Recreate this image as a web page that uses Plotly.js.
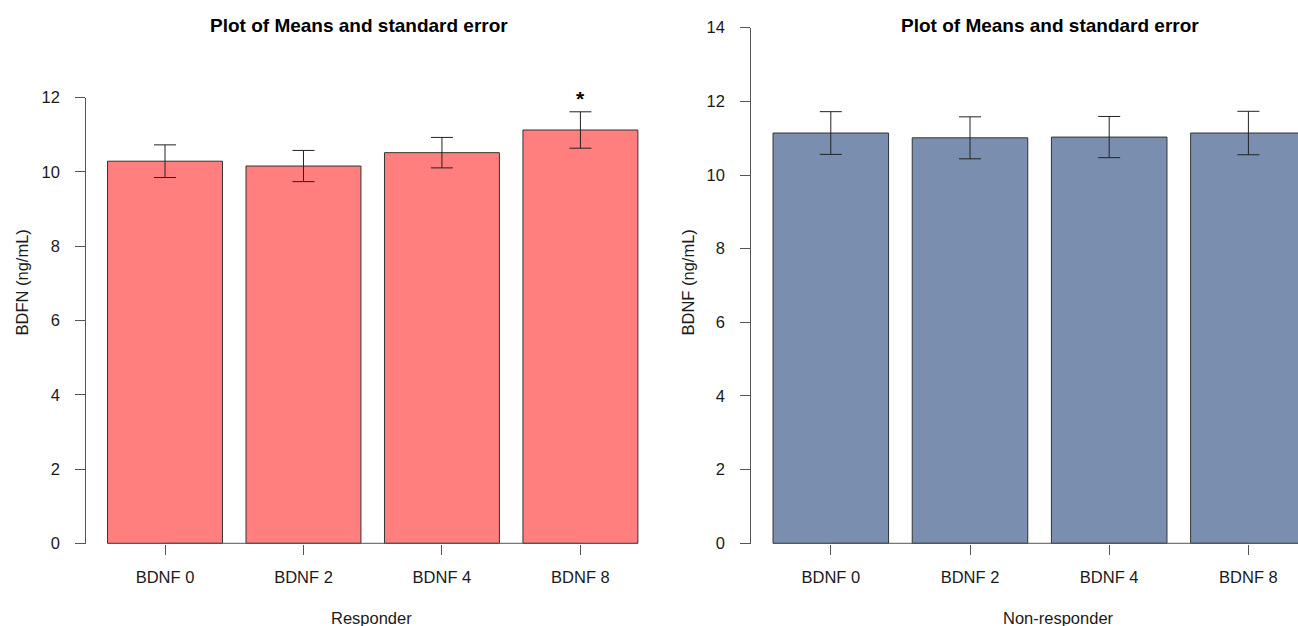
<!DOCTYPE html>
<html>
<head>
<meta charset="utf-8">
<script src="https://cdn.plot.ly/plotly-3.0.1.min.js"></script>
<style>html,body{margin:0;padding:0;background:#fff;}#chart{width:1298px;height:626px;}</style>
</head>
<body>
<div id="chart"></div>
<script>
// ---- data ----
const categories = ['BDNF 0', 'BDNF 2', 'BDNF 4', 'BDNF 8'];
const responderMean = [10.29, 10.16, 10.52, 11.13];
const responderSE = [0.44, 0.42, 0.41, 0.49];
const nonResponderMean = [11.14, 11.01, 11.03, 11.14];
const nonResponderSE = [0.58, 0.57, 0.56, 0.59];
const leftYTicks = [0, 2, 4, 6, 8, 10, 12];
const rightYTicks = [0, 2, 4, 6, 8, 10, 12, 14];
const panelTitle = 'Plot of Means and standard error';
const leftXTitle = 'Responder';
const rightXTitle = 'Non-responder';
const leftYTitle = 'BDFN (ng/mL)';
const rightYTitle = 'BDNF (ng/mL)';
const significanceMark = '*';

// ---- layout geometry (pixels) ----
const W = 1298, H = 626;
const FONT = 'Liberation Sans, Arial, Helvetica, sans-serif';
const px = p => p / W;
const py = p => 1 - p / H;

const yZeroPx = 543.3;
const yPadUnits = 0.02;
// left panel
const Lunit = (yZeroPx - 97.7) / 12;
const Lcat0 = 165, Lstep = 138.47, Laxis = 86.2, Lright = 662;
// right panel
const Runit = (yZeroPx - 27.7) / 14;
const Rcat0 = 830.8, Rstep = 139.2, Raxis = 751.2, Rright = 1298;

const axisGrey = '#555';
const textCol = '#1a1a1a';
const tickFont = {family: FONT, size: 16.5, color: textCol};

function bars(mean, se, color, xa, ya) {
  return {
    type: 'bar', x: categories, y: mean, width: 0.83,
    xaxis: xa, yaxis: ya,
    marker: {color: color, line: {color: '#333', width: 1}},
    error_y: {type: 'data', array: se, visible: true, color: '#222', thickness: 1, width: 11},
    hoverinfo: 'x+y', showlegend: false
  };
}
function baseLine(xa, ya) {
  return {
    type: 'scatter', mode: 'lines',
    x: [categories[0], categories[categories.length - 1]], y: [0, 0],
    xaxis: xa, yaxis: ya,
    line: {color: axisGrey, width: 1}, hoverinfo: 'skip', showlegend: false
  };
}

const data = [
  bars(responderMean, responderSE, '#FF7F7F', 'x', 'y'),
  baseLine('x', 'y'),
  bars(nonResponderMean, nonResponderSE, '#7A8FB0', 'x2', 'y2'),
  baseLine('x2', 'y2')
];

function xAxis(cat0, step, axisPx, rightPx, anchor) {
  return {
    type: 'category', anchor: anchor,
    domain: [px(axisPx), px(rightPx)],
    range: [(axisPx - cat0) / step, (rightPx - cat0) / step],
    showline: false, showgrid: false, zeroline: false,
    ticks: 'outside', ticklen: 10, tickwidth: 1, tickcolor: axisGrey,
    tickfont: tickFont, ticklabelstandoff: 8, fixedrange: true
  };
}
function yAxis(unit, topVal, ticks, anchor) {
  const bottomPx = yZeroPx + yPadUnits * unit;
  const topPx = yZeroPx - topVal * unit;
  return {
    anchor: anchor,
    domain: [py(bottomPx), py(topPx)],
    range: [-yPadUnits, topVal],
    tickmode: 'array', tickvals: ticks, ticktext: ticks.map(String),
    showline: true, linecolor: axisGrey, linewidth: 1,
    showgrid: false, zeroline: false,
    ticks: 'outside', ticklen: 10, tickwidth: 1, tickcolor: axisGrey,
    tickfont: tickFont, ticklabelstandoff: 12, fixedrange: true
  };
}

const ann = (text, xp, yp, opts) => Object.assign({
  text: text, xref: 'paper', yref: 'paper', x: px(xp), y: py(yp),
  xanchor: 'center', yanchor: 'middle', showarrow: false,
  font: {family: FONT, size: 16.5, color: textCol}
}, opts || {});

const layout = {
  width: W, height: H,
  margin: {l: 0, r: 0, t: 0, b: 0},
  paper_bgcolor: '#fff', plot_bgcolor: '#fff',
  showlegend: false,
  xaxis: xAxis(Lcat0, Lstep, Laxis, Lright, 'y'),
  yaxis: yAxis(Lunit, 12, leftYTicks, 'x'),
  xaxis2: xAxis(Rcat0, Rstep, Raxis, Rright, 'y2'),
  yaxis2: yAxis(Runit, 14, rightYTicks, 'x2'),
  annotations: [
    ann('<b>' + panelTitle + '</b>', 359, 25, {font: {family: FONT, size: 19, color: '#000'}}),
    ann('<b>' + panelTitle + '</b>', 1050, 25, {font: {family: FONT, size: 19, color: '#000'}}),
    ann(leftXTitle, 372, 618),
    ann(rightXTitle, 1058, 618),
    ann(leftYTitle, 21.5, 283, {textangle: -90}),
    ann(rightYTitle, 687.5, 283, {textangle: -90}),
    {
      text: '<b>' + significanceMark + '</b>', xref: 'x', yref: 'y',
      x: categories[3], y: responderMean[3] + responderSE[3],
      xanchor: 'center', yanchor: 'bottom', showarrow: false, yshift: 0,
      font: {family: FONT, size: 21, color: '#000'}
    }
  ]
};

Plotly.newPlot('chart', data, layout, {displayModeBar: false, staticPlot: true});
</script>
</body>
</html>
